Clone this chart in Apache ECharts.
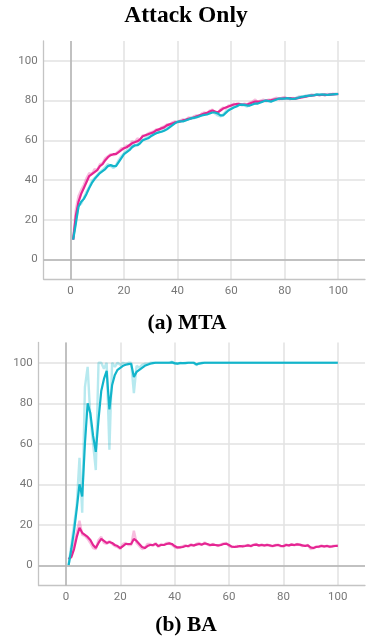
<!DOCTYPE html>
<html><head><meta charset="utf-8">
<script src="https://cdn.jsdelivr.net/npm/echarts@6/dist/echarts.min.js"></script>
<style>html,body{margin:0;padding:0;background:#fff}#c{width:372px;height:638px}</style>
</head><body><div id="c"></div>
<script>
// epochs 1..100
const epochs = Array.from({length: 100}, (_, i) => i + 1);
const xTicks = [0, 20, 40, 60, 80, 100];
const yTicks = [0, 20, 40, 60, 80, 100];

// (a) MTA
const mtaPinkSmooth = [
 10,22,29,33,36,39,42,43,44,45,
 47,48,50,51.5,52.5,53,53,54,55,56,
 56.5,57.5,58.5,59,59.5,60.5,62,62.5,63,63.5,
 64,65,65.5,66,66.5,67.5,68,68.5,69,69.2,
 69.5,70,70.3,70.8,71,71.5,72,72.5,73,73.5,
 73.8,74.5,75,74.5,74,75,76,76.5,77,77.5,
 78,78.3,78.3,78,78,78,78.5,79,79.5,79.5,
 79.5,79.8,80,80,80.2,80.5,80.8,81,81,81.2,
 81.3,81.2,81,81,81.2,81.5,81.8,82,82.3,82.5,
 82.7,82.8,82.8,82.8,83,82.8,83,83.1,83.2,83.3];
const mtaPinkRaw = [
 10,25,32,35,37.5,41,43.5,43,45.5,45,
 48,48.5,51,52,53,52.5,53.5,54.5,56,56,
 57.5,57,59.5,59,61,60,62.5,62.5,63.5,64,
 64.5,65.5,65,66.5,67,68,68,69,69.5,69,
 70,70.5,70,71.5,71,72,72.5,72,73.5,74,
 73.5,75,75.5,74,73.5,75.5,76.5,76,77.5,77.5,
 78.5,78,78.5,77.5,78.5,78,79,79.5,80.5,79,
 80,80.5,79.5,80.5,80.5,81,81.5,80.5,81.5,81.8,
 81,80.7,81.3,81,81.8,82,81.5,82.5,82.5,83,
 82.5,83.2,82.5,83.3,82.5,83.3,83,83.5,83.3,83.3];
const mtaCyanSmooth = [
 10,18,26.5,29,30.5,33,36,38.5,40.5,42,
 43.5,44.5,45.5,47,47.5,47,47,49,51,53,
 54,55,56.5,57.5,57.5,58.5,60,60.5,61,62,
 62.8,63.5,64,64.3,64.8,65.5,66.5,67.5,68.5,69.3,
 69.5,69.5,70,70.5,71,71.3,71.5,72,72.5,72.8,
 73,73.5,74,74,73.5,72.5,72.5,73.8,75,75.8,
 76.5,77,77.8,78,77.8,77.5,77.5,78,78.5,78.5,
 79,79.5,80,79.8,79.5,80,80.5,81,81,81,
 81.2,81,80.8,81,81.3,81.8,82,82.2,82.5,82.5,
 82.7,83,83,83,83,82.8,83,83.1,83.2,83.3];
const mtaCyanRaw = [
 10,20,27,28,31,34,36.5,39.5,41,42.5,
 44,45,46.5,48,47,46,47.5,50,52,53.5,
 55,55.5,57.5,57,58,59.5,60,61,62,62.5,
 63.5,63.5,64.5,64.5,65.5,66,67.5,68,69,69.5,
 69.5,70,70.5,70.5,71.5,71,72,72.5,72.5,73.3,
 73.5,74,74.5,73.5,72.5,72,73,74.5,75.5,76,
 77,77.5,78,78,77.5,77,78,78.5,78.5,79,
 79.5,80,80,79.5,79.5,80.5,81,81,80.8,81.2,
 81,80.8,81,81.2,81.8,82,82.2,82.5,82.5,82.8,
 83,83.2,82.8,83.2,82.8,83,83.3,83,83.3,83.3];

// (b) BA
const baCyanSmooth = [
 0,8,17,28,40,34,60,80,75,64,
 56,72,86,92,96,77,89,94,96.5,97.5,
 98.5,99,99.3,99.5,93,95.5,96.5,97.5,98.5,99,
 99.5,99.8,100,100,100,100,100,100,100.2,99.8,
 99.6,99.8,99.8,99.8,100,100,100,99.2,99.6,99.8,
 100,100,100,100,100,100,100,100,100,100,
 100,100,100,100,100,100,100,100,100,100,
 100,100,100,100,100,100,100,100,100,100,
 100,100,100,100,100,100,100,100,100,100,
 100,100,100,100,100,100,100,100,100,100];
const baCyanRaw = [
 0,10,20,30,53,26,88,98,73,60,
 47,100,100,97,100,57,100,98,100,99,
 100,99.5,100,100,85,98.5,97.5,99,99.5,99.5,
 100,100,100,100,100,100,100,100,100.5,99.5,
 99.5,100,99.8,100,100,100,100,98.8,99.8,100,
 100,100,100,100,100,100,100,100,100,100,
 100,100,100,100,100,100,100,100,100,100,
 100,100,100,100,100,100,100,100,100,100,
 100,100,100,100,100,100,100,100,100,100,
 100,100,100,100,100,100,100,100,100,100];
const baPinkSmooth = [
 3,4,8,14,18.5,16,15,14,12.5,10,
 8.5,11,13,12,11,11.5,11,10,9.5,8.5,
 9.5,10.5,10.5,10.5,13,12,10.5,9,8.5,9.5,
 10,10,10.5,9.5,10,10,10.5,10.8,10.5,9.5,
 8.8,8.8,9,9.5,9.5,10,9.8,10.2,10.5,10.2,
 10.8,10.5,10,10.2,10,9.8,10,10.5,10.6,10,
 9.2,9,9.2,9.5,9.3,9.5,9.8,9.5,10,10.2,
 9.8,10,9.8,10,9.8,9.5,9.8,10,9.6,9.4,
 10,9.8,10.2,10,10.3,10.2,9.8,9.5,9.8,8.8,
 8.5,9,9.2,9.5,9.3,9.5,9.2,9.3,9.5,9.6];
const baPinkRaw = [
 3,5,10,16,22,15,14.5,13,11,8.5,
 8,12.5,14,11,10.5,12,10.5,9.5,9,8,
 10.5,11,10,10,17,11,9.5,8,8.5,10.5,
 10.5,9.5,11,9,10.5,10,11,11,10,9,
 8.5,9,9.5,10,9,10.5,9.5,10.5,11,10,
 11.3,10.2,9.7,10.5,10,9.5,10.3,10.8,11,9.5,
 9,9.2,9.5,9.2,9.5,9.8,10,9.3,10.3,10.5,
 9.5,10.3,9.5,10.3,9.6,9.3,10,10.2,9.3,9.6,
 10.3,9.6,10.5,9.8,10.5,10,9.5,9.8,10,8,
 8.3,9.3,9,9.8,9.1,9.7,9,9.5,9.7,9.8];

const PINK = '#e52592', CYAN = '#12b5cb';
const pair = v => epochs.map((e, i) => [e, v[i]]);

function axis(idx, ticks) {
  return {
    type: 'value', gridIndex: idx, min: -10, max: 110, interval: 10,
    axisLine: { show: true, onZero: false, lineStyle: { color: '#c4c4c4', width: 1.3 } },
    axisTick: { show: false },
    axisLabel: {
      color: '#777', fontSize: 11.5, fontFamily: 'Roboto', margin: 6,
      formatter: v => ticks.indexOf(v) >= 0 ? String(v) : ''
    },
    splitLine: { show: true, lineStyle: { color: ['transparent', '#e2e2e2'], width: 1.5 } }
  };
}
function zeroLines() {
  return {
    silent: true, symbol: ['none', 'none'], animation: false,
    label: { show: false },
    lineStyle: { color: '#b3b3b3', width: 1.5, type: 'solid' },
    data: [{ xAxis: 0 }, { yAxis: 0 }]
  };
}
function line(idx, data, color, raw, extra) {
  const s = {
    type: 'line', xAxisIndex: idx, yAxisIndex: idx, data: pair(data),
    showSymbol: false, symbol: 'none', animation: false, z: raw ? 2 : 3,
    lineStyle: { color: color, width: raw ? 2.4 : 2.2, opacity: raw ? 0.3 : 1 },
    itemStyle: { color: color }
  };
  return Object.assign(s, extra || {});
}

const chart = echarts.init(document.getElementById('c'), null, { renderer: 'canvas' });
chart.setOption({
  backgroundColor: '#fff',
  animation: false,
  graphic: [
    { type: 'text', x: 186, y: 16, style: { text: 'Attack Only', textAlign: 'center', textVerticalAlign: 'middle', font: 'bold 23.5px "Liberation Serif"', fill: '#000' } },
    { type: 'text', x: 187, y: 323, style: { text: '(a) MTA', textAlign: 'center', textVerticalAlign: 'middle', font: 'bold 21.5px "Liberation Serif"', fill: '#000' } },
    { type: 'text', x: 186, y: 625, style: { text: '(b) BA', textAlign: 'center', textVerticalAlign: 'middle', font: 'bold 21.5px "Liberation Serif"', fill: '#000' } }
  ],
  grid: [
    { left: 43.7, right: 7, top: 41, height: 238.3 },
    { left: 38.7, right: 7, top: 342.5, height: 243 }
  ],
  xAxis: [axis(0, xTicks), axis(1, xTicks)],
  yAxis: [axis(0, yTicks), axis(1, yTicks)],
  series: [
    line(0, mtaPinkRaw, PINK, true, { markLine: zeroLines() }),
    line(0, mtaCyanRaw, CYAN, true),
    line(0, mtaPinkSmooth, PINK, false),
    line(0, mtaCyanSmooth, CYAN, false),
    line(1, baPinkRaw, PINK, true, { markLine: zeroLines() }),
    line(1, baCyanRaw, CYAN, true),
    line(1, baPinkSmooth, PINK, false),
    line(1, baCyanSmooth, CYAN, false)
  ]
});
</script></body></html>
